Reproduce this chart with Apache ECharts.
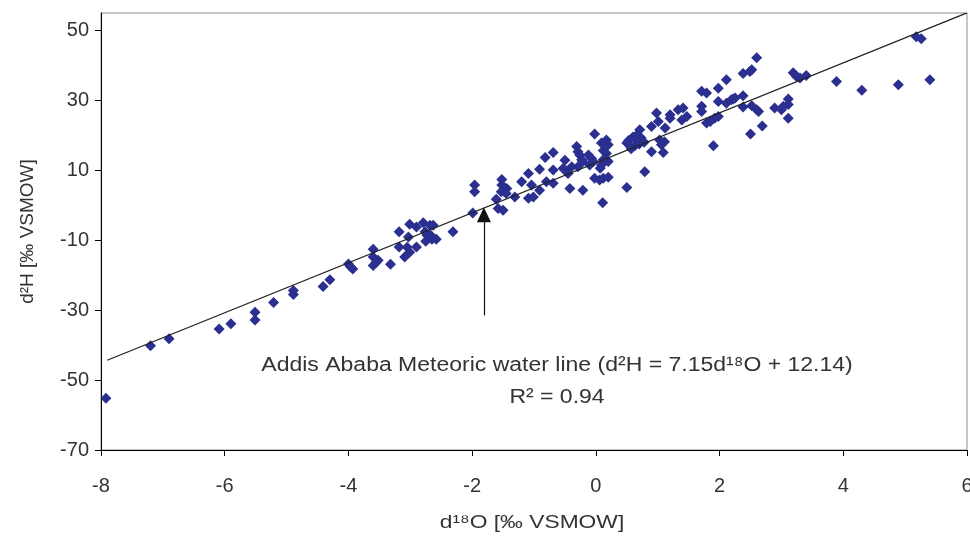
<!DOCTYPE html>
<html>
<head>
<meta charset="utf-8">
<script src="https://cdn.jsdelivr.net/npm/echarts@6/dist/echarts.min.js"></script>
<style>
html,body{margin:0;padding:0;background:#fff;}
#chart{width:970px;height:538px;}
</style>
</head>
<body>
<div id="chart"></div>
<script>
// Sample values
const d18O = [-7.92,-7.20,-6.90,-6.09,-5.90,-5.51,-5.51,-5.21,-4.89,-4.89,-4.41,-4.30,
  -4.00,-3.93,-3.97,-3.60,-3.60,-3.52,-3.60,-3.55,-3.32,-3.18,-3.18,-3.03,-3.01,-3.05,-3.01,-3.09,
  -2.90,-2.90,-2.79,-2.68,-2.63,-2.76,-2.73,-2.65,-2.58,-2.75,-2.67,-2.31,-1.96,-1.96,-1.99,
  -1.52,-1.52,-1.44,-1.53,-1.45,-1.61,-1.58,-1.50,-1.31,-1.20,-1.09,-1.04,-1.09,-1.01,-0.91,-0.91,
  -0.82,-0.69,-0.69,-0.80,-0.69,-0.50,-0.53,-0.47,-0.45,-0.39,-0.42,-0.31,-0.29,-0.26,-0.23,-0.21,
  -0.29,-0.21,-0.12,-0.07,-0.10,-0.04,-0.02,-0.02,0.06,0.12,0.11,0.09,0.17,0.20,0.12,0.17,0.12,
  0.20,0.09,0.07,0.20,0.50,0.79,0.50,0.53,0.60,0.66,0.73,0.78,0.70,0.63,0.57,0.65,0.71,0.90,0.98,
  1.01,1.12,1.03,1.11,1.06,0.90,1.09,1.20,1.20,1.33,1.41,1.47,1.39,1.71,1.79,1.98,2.11,1.71,1.71,
  1.98,2.11,2.19,2.25,1.79,1.85,1.92,1.98,1.90,2.60,2.38,2.49,2.52,2.22,2.38,2.38,2.52,2.60,2.63,
  2.69,2.50,3.19,3.24,3.30,3.40,2.89,3.00,3.03,3.11,3.11,3.11,3.89,4.30,4.89,5.40,5.18,5.26];
const d2H = [-55.2,-40.2,-38.2,-35.4,-33.9,-30.6,-32.8,-27.8,-24.4,-25.5,-23.2,-21.3,
  -16.8,-18.2,-17.5,-12.6,-14.8,-15.7,-17.2,-16.3,-16.9,-7.6,-11.9,-9.1,-5.4,-12.0,-13.4,-14.8,
  -11.9,-6.2,-5.0,-5.7,-5.7,-7.6,-8.6,-9.7,-9.7,-10.3,-8.6,-7.6,5.8,3.9,-2.2,
  7.4,5.8,4.8,3.9,3.4,1.7,-0.9,-1.4,2.4,6.7,9.1,5.8,2.0,2.4,4.3,10.3,
  13.7,15.1,10.1,6.7,6.3,12.9,10.5,9.9,9.1,11.0,4.8,16.8,15.3,14.4,13.0,12.5,
  11.0,4.3,14.4,13.4,11.5,12.5,20.4,7.7,7.2,7.7,0.7,17.8,18.7,17.3,15.7,14.8,13.0,
  12.5,11.5,10.6,8.0,5.1,9.6,17.8,18.5,19.5,20.0,19.3,18.0,17.5,17.0,16.2,18.8,21.6,22.5,26.4,
  24.0,22.1,18.7,18.2,17.3,15.3,15.1,25.9,24.9,27.3,27.8,25.4,24.4,32.6,32.1,33.5,35.9,28.3,26.8,
  29.7,29.2,30.2,30.7,23.5,24.0,24.9,25.4,17.0,42.2,37.7,38.3,38.8,30.4,31.3,28.1,28.5,27.3,26.8,
  22.7,20.4,37.9,36.9,36.4,37.1,27.8,27.3,28.3,30.4,28.8,24.9,35.4,32.9,34.5,35.9,48.2,47.6];

// Meteoric water line: d2H = slope * d18O + intercept
const lineSlope = 7.15;
const lineIntercept = 12.14;
const lineX = [-7.9, 6];

// Arrow annotation (data units)
const arrowX = -1.81;
const arrowY = [-31.5, -2.7];

// Axis tick settings
const xTicks = [-8, -6, -4, -2, 0, 2, 4, 6];
const yTicks = [-70, -50, -30, -10, 10, 30, 50];
const yMax = 55;

// Texts
const xTitle = 'd\u00B9\u2078O [\u2030 VSMOW]';
const yTitle = 'd\u00B2H [\u2030 VSMOW]';
const noteLine1 = 'Addis Ababa Meteoric water line (d\u00B2H = 7.15d\u00B9\u2078O + 12.14)';
const noteLine2 = 'R\u00B2 = 0.94';

const points = d18O.map((x, i) => [x, d2H[i]]);
const linePts = lineX.map(x => [x, lineSlope * x + lineIntercept]);

const font = 'Liberation Sans, Arial, sans-serif';
const txt = '#333333';

const chart = echarts.init(document.getElementById('chart'), null, {renderer: 'canvas'});
chart.setOption({
  animation: false,
  backgroundColor: '#ffffff',
  grid: {left: 101, right: 3, top: 13, bottom: 88, show: true, borderColor: '#8c8c8c', borderWidth: 1,
         containLabel: false, outerBoundsMode: 'none'},
  xAxis: {
    type: 'value',
    min: xTicks[0], max: xTicks[xTicks.length - 1], interval: 2,
    axisLine: {onZero: false, lineStyle: {color: '#000', width: 1}},
    axisTick: {show: true, length: 6, inside: false, lineStyle: {color: '#000'}},
    axisLabel: {fontFamily: font, fontSize: 20, color: txt, margin: 26},
    splitLine: {show: false}
  },
  yAxis: {
    type: 'value',
    min: yTicks[0], max: yMax, interval: 20,
    name: yTitle,
    nameLocation: 'middle', nameGap: 64, nameRotate: 90,
    nameTextStyle: {fontFamily: font, fontSize: 19, color: txt},
    axisLine: {onZero: false, lineStyle: {color: '#000', width: 1}},
    axisTick: {show: true, length: 6, inside: false, lineStyle: {color: '#000'}},
    axisLabel: {fontFamily: font, fontSize: 20, color: txt, margin: 12, showMaxLabel: false},
    splitLine: {show: false}
  },
  series: [
    {
      type: 'scatter',
      data: points,
      symbol: 'diamond',
      symbolSize: 11,
      itemStyle: {color: '#2B2F8F', opacity: 1},
      z: 2
    },
    {
      type: 'line',
      data: linePts,
      showSymbol: false,
      symbol: 'none',
      lineStyle: {color: '#222222', width: 1.2},
      z: 3,
      markLine: {
        silent: true,
        symbol: ['none', 'triangle'],
        symbolSize: [14, 15],
        label: {show: false},
        lineStyle: {color: '#111111', width: 1.2, type: 'solid'},
        data: [[{coord: [arrowX, arrowY[0]]}, {coord: [arrowX, arrowY[1]]}]]
      }
    }
  ],
  graphic: [
    {
      type: 'text', x: 557, y: 365, scaleX: 1.15,
      style: {text: noteLine1, fontFamily: font, fontSize: 20, fill: txt, align: 'center', verticalAlign: 'middle'}
    },
    {
      type: 'text', x: 557, y: 397, scaleX: 1.15,
      style: {text: noteLine2, fontFamily: font, fontSize: 20, fill: txt, align: 'center', verticalAlign: 'middle'}
    },
    {
      type: 'text', x: 532, y: 523, scaleX: 1.2,
      style: {text: xTitle, fontFamily: font, fontSize: 19, fill: txt, align: 'center', verticalAlign: 'middle'}
    }
  ]
});
</script>
</body>
</html>
